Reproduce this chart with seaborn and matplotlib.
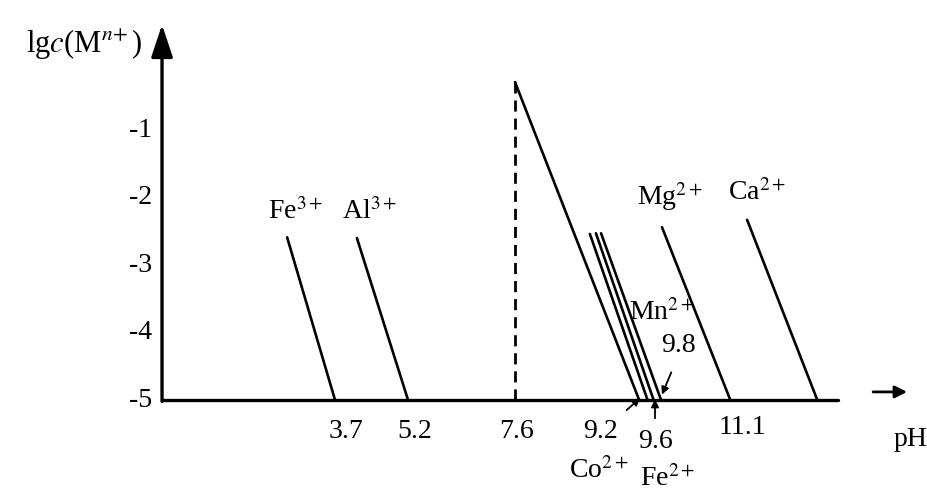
import pandas as pd
import matplotlib
matplotlib.use('Agg')
import matplotlib.pyplot as plt
import seaborn as sns

# --- données (unités du schéma) ---
# droites de précipitation : sommet (x, lgc) et pied sur l'axe lgc = -5
ions = ['Fe3+', 'Al3+', 'grande', 'Co2+', 'Fe2+', 'Mn2+', 'Mg2+', 'Ca2+']
top_x = [2.69, 4.19, 7.59, 9.20, 9.33, 9.44, 10.75, 12.58]
top_lgc = [-2.59, -2.60, -0.29, -2.54, -2.53, -2.53, -2.44, -2.33]
foot_x = [3.72, 5.29, 10.26, 10.44, 10.57, 10.73, 12.22, 14.09]
base_lgc = -5

# pointillés vertical à pH 7.6
dash_x = 7.59
dash_top = -0.29

# étiquettes des pH sous l'axe
ph_labels = ['3.7', '5.2', '7.6', '9.2', '9.6', '11.1']
ph_label_x = [3.96, 5.44, 7.63, 9.42, 10.60, 12.47]
ph_label_y = [-5.47, -5.47, -5.47, -5.47, -5.62, -5.41]

yticks = [-1, -2, -3, -4, -5]

ion_labels = ['Fe$^{3+}$', 'Al$^{3+}$', 'Mg$^{2+}$', 'Ca$^{2+}$', 'Mn$^{2+}$',
              '9.8', 'Co$^{2+}$', 'Fe$^{2+}$']
ion_label_x = [2.88, 4.47, 10.92, 12.80, 10.75, 11.10, 9.40, 10.88]
ion_label_y = [-2.21, -2.21, -1.99, -1.92, -3.70, -4.19, -6.04, -6.16]

# --- mise en forme des données ---
rows = []
for ion, x0, y0, x1 in zip(ions, top_x, top_lgc, foot_x):
    rows.append({'ion': ion, 'x': x0, 'lgc': y0})
    rows.append({'ion': ion, 'x': x1, 'lgc': base_lgc})
df = pd.DataFrame(rows)
df_dash = pd.DataFrame({'ion': ['pointille'] * 2, 'x': [dash_x, dash_x],
                        'lgc': [base_lgc, dash_top]})

sns.set_theme(style='white')
plt.rcParams['font.family'] = ['Liberation Serif', 'DejaVu Serif']
plt.rcParams['mathtext.fontset'] = 'stix'
plt.rcParams['text.color'] = 'black'

fig = plt.figure(figsize=(9.28, 4.90), dpi=100)
ax = fig.add_axes([0, 0, 1, 1])
ax.set_xlim(-3.484, 16.47)
ax.set_ylim(-6.333, 0.926)
ax.axis('off')

sns.lineplot(data=df, x='x', y='lgc', units='ion', estimator=None, sort=False,
             color='black', lw=1.9, ax=ax, legend=False)
sns.lineplot(data=df_dash, x='x', y='lgc', estimator=None, sort=False,
             color='black', lw=2.0, ax=ax, legend=False, dashes=False,
             linestyle=(0, (4, 2.5)))

# axes avec flèches
ax.plot([0, 14.53], [base_lgc, base_lgc], color='black', lw=2.4)
ax.annotate('', xy=(0, 0.56), xytext=(0, base_lgc - 0.02),
            arrowprops=dict(arrowstyle='-|>,head_length=0.9,head_width=0.3',
                            lw=2.4, color='black',
                            mutation_scale=22, shrinkA=0, shrinkB=0))
ax.annotate('', xy=(16.02, -4.88), xytext=(15.29, -4.88),
            arrowprops=dict(arrowstyle='-|>', lw=2.0, color='black',
                            mutation_scale=18, shrinkA=0, shrinkB=0))

fs = 20
for v in yticks:
    ax.text(-0.22, v, str(v), ha='right', va='center', fontsize=fs)
ax.text(-1.68, 0.26, r'lg$c$(M$^{n\!+}$)', ha='center', va='center', fontsize=22)
ax.text(16.09, -5.59, 'pH', ha='center', va='center', fontsize=fs)

for lab, x, y in zip(ph_labels, ph_label_x, ph_label_y):
    ax.text(x, y, lab, ha='center', va='center', fontsize=fs)
for lab, x, y in zip(ion_labels, ion_label_x, ion_label_y):
    ax.text(x, y, lab, ha='center', va='center', fontsize=fs)

# petites flèches de repère
arrow_kw = dict(arrowstyle='-|>', lw=1.3, color='black', mutation_scale=11,
                shrinkA=0, shrinkB=0)
ax.annotate('', xy=(10.28, -4.97), xytext=(9.99, -5.15), arrowprops=arrow_kw)
ax.annotate('', xy=(10.60, -4.99), xytext=(10.60, -5.27), arrowprops=arrow_kw)
ax.annotate('', xy=(10.75, -4.92), xytext=(10.95, -4.59), arrowprops=arrow_kw)

fig.savefig('out.png', dpi=100, facecolor='white')
